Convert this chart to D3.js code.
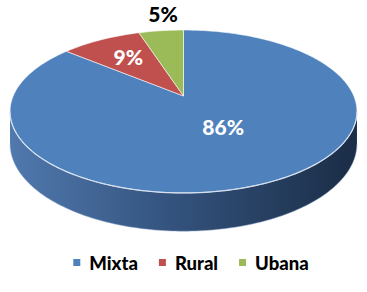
<!DOCTYPE html>
<html>
<head>
<meta charset="utf-8">
<script src="https://cdn.jsdelivr.net/npm/d3@7"></script>
<style>
  body { margin: 0; background: #fff; }
  svg { display: block; }
  text { font-family: Lato, "Open Sans", sans-serif; font-weight: bold; }
</style>
</head>
<body>
<svg id="chart"></svg>
<script>
// data
var categories = ["Mixta", "Rural", "Ubana"];
var values = [0.86, 0.09, 0.05];
var labels = ["86%", "9%", "5%"];
var colors = ["#4f81bd", "#c0504d", "#9bbb59"];

var width = 367, height = 292;

var svg = d3.select("#chart")
  .attr("width", width)
  .attr("height", height);

// 3d projection of the disk (angle 0 at top, clockwise)
var cx = 183.5, cy = 96;
var R = 170.3, Rs = 78.5, k = 0.19, H = 31;

function proj(a, r, z) {
  var x = Math.sin(a) * r, y = -Math.cos(a) * r;
  var s = 1 / (1 - k * y);
  return [cx + R * x * s, cy + (Rs * y + H * z) * s];
}

var pie = d3.pie().sort(null).startAngle(0).endAngle(2 * Math.PI);
var arcs = pie(values);
var line = d3.line();

function arcPoints(a0, a1, r, z) {
  var n = Math.max(2, Math.ceil((a1 - a0) / 0.02));
  return d3.range(n + 1).map(function (i) {
    return proj(a0 + (a1 - a0) * i / n, r, z);
  });
}

var defs = svg.append("defs");
var grad = defs.append("linearGradient")
  .attr("id", "side")
  .attr("gradientUnits", "userSpaceOnUse")
  .attr("x1", cx - R).attr("x2", cx + R).attr("y1", 0).attr("y2", 0);
grad.append("stop").attr("offset", 0).attr("stop-color", "#5078ad");
grad.append("stop").attr("offset", 0.45).attr("stop-color", "#34547f");
grad.append("stop").attr("offset", 1).attr("stop-color", "#1b2d47");

// visible part of the outer wall
var vis0 = Math.PI - Math.acos(k), vis1 = Math.PI + Math.acos(k);

arcs.forEach(function (d, i) {
  var a0 = Math.max(d.startAngle, vis0), a1 = Math.min(d.endAngle, vis1);
  if (a1 <= a0) return;
  var top = arcPoints(a0, a1, 1, 0);
  var bot = arcPoints(a0, a1, 1, 1).reverse();
  svg.append("path")
    .attr("d", line(top.concat(bot)) + "Z")
    .attr("fill", i === 0 ? "url(#side)" : d3.color(colors[i]).darker(0.8))
    .attr("stroke", "none");
  // light bottom edge
  svg.append("path")
    .attr("d", line(arcPoints(a0, a1, 1, 1)))
    .attr("fill", "none")
    .attr("stroke", "#9fb4d2")
    .attr("stroke-opacity", 0.5)
    .attr("stroke-width", 1);
});

// top faces
arcs.forEach(function (d, i) {
  var pts = [proj(0, 0, 0)].concat(arcPoints(d.startAngle, d.endAngle, 1, 0));
  svg.append("path")
    .attr("d", line(pts) + "Z")
    .attr("fill", colors[i])
    .attr("stroke", "#ffffff")
    .attr("stroke-opacity", 0.7)
    .attr("stroke-width", 0.8)
    .attr("stroke-linejoin", "round");
});

// rim highlight on front edge
svg.append("path")
  .attr("d", line(arcPoints(vis0, vis1, 1, 0)))
  .attr("fill", "none")
  .attr("stroke", "#d5e0ef")
  .attr("stroke-width", 1.2);

// data labels
arcs.forEach(function (d, i) {
  var mid = (d.startAngle + d.endAngle) / 2;
  var p, fill;
  if (d.data > 0.5) { p = proj(mid, 0.5, 0); p = [p[0], p[1] - 7]; fill = "#fff"; }
  else if (d.data > 0.07) { p = proj(mid, 0.66, 0); p = [p[0] + 2, p[1]]; fill = "#fff"; }
  else { p = proj(mid, 1, 0); p = [p[0] + 2, p[1] - 16]; fill = "#000"; }
  svg.append("text")
    .attr("x", p[0])
    .attr("y", p[1])
    .attr("dy", "0.36em")
    .attr("text-anchor", "middle")
    .attr("fill", fill)
    .style("font-size", "21px")
    .style("font-weight", 900)
    .text(labels[i]);
});

// legend
var legend = svg.append("g").attr("class", "legend");
var xpos = 0;
categories.forEach(function (c, i) {
  var g = legend.append("g").attr("transform", "translate(" + xpos + ",0)");
  g.append("rect")
    .attr("x", 0).attr("y", -4)
    .attr("width", 7).attr("height", 7)
    .attr("fill", colors[i]);
  var t = g.append("text")
    .attr("x", 16)
    .attr("y", 0)
    .attr("dy", "0.36em")
    .attr("fill", "#000")
    .style("font-size", "18.5px")
    .style("font-weight", 900)
    .text(c);
  xpos += 16 + t.node().getComputedTextLength() + 21;
});
var legW = xpos - 21;
legend.attr("transform", "translate(" + (191 - legW / 2) + ",263)");
</script>
</body>
</html>
